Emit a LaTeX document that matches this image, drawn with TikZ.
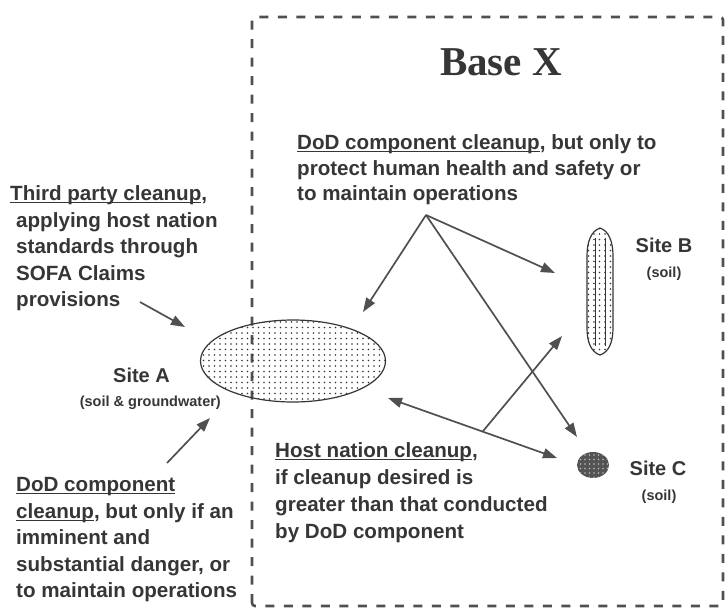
\documentclass[tikz,border=0pt]{standalone}
\usepackage{fontspec}
\setmainfont{Liberation Sans}
\newfontfamily\titlefont{Liberation Serif}
\usetikzlibrary{arrows.meta,patterns.meta,shapes.geometric,calc}
\definecolor{ink}{HTML}{363636}
\definecolor{lineink}{HTML}{505050}
\newlength\ulw
\newcommand\myul[1]{\settowidth\ulw{#1}\rlap{\rule[-2.6pt]{\ulw}{1.1pt}}#1}
\begin{document}
\begin{tikzpicture}[x=1pt,y=-1pt,
  body/.style={align=left,anchor=north west,inner sep=0pt,text=ink,font=\bfseries\fontsize{20.6}{#1}\selectfont},
  body/.default=26,
  sitelbl/.style={anchor=base,inner sep=0pt,text=ink,font=\bfseries\fontsize{20}{20}\selectfont},
  soillbl/.style={anchor=base,inner sep=0pt,text=ink,font=\bfseries\fontsize{14.5}{14.5}\selectfont},
  dotfill/.style={pattern={Dots[radius=0.85pt,distance=5.5pt]},pattern color=ink},
  site/.style={ellipse,draw=ink,line width=1.2pt,inner sep=0pt,dotfill},
  arr/.style={draw=lineink,line width=1.7pt,-{Triangle[length=14pt,width=10pt]}},
  darr/.style={draw=lineink,line width=1.7pt,{Triangle[length=14pt,width=10pt]}-{Triangle[length=14pt,width=10pt]}},
  boxline/.style={draw=lineink,line width=2.6pt,dash pattern=on 9pt off 9.5pt,rounded corners=3pt}
]
\useasboundingbox (0,0) rectangle (728,608);
\fill[white] (0,0) rectangle (728,608);

% base boundary
\draw[boxline] (252,606) -- (252,17) -- (723,17) -- (723,606) -- cycle;
\node[anchor=base,inner sep=0pt,text=ink,font=\titlefont\bfseries\fontsize{41}{41}\selectfont] (title) at (501,75) {Base X};

% sites
\node[site,minimum width=185pt,minimum height=82pt] (siteA) at (293,361) {};
\coordinate (siteB) at (600,291);
\draw[draw=ink,line width=1.2pt,dotfill]
  (600,228) .. controls (609,231) and (613,242) .. (613,256) -- (613,328)
  .. controls (613,342) and (609,352) .. (600,355)
  .. controls (591,352) and (587,342) .. (587,328) -- (587,256)
  .. controls (587,242) and (591,231) .. cycle;
\draw[draw=ink,line width=0.6pt] (595,238) -- (595,346) (605,238) -- (605,346);
\node[ellipse,fill=ink!85,inner sep=0pt,minimum width=32pt,minimum height=26pt,
  postaction={pattern={Dots[radius=0.9pt,distance=4.5pt]},pattern color=white!65!ink}] (siteC) at (593,465) {};

\node[sitelbl] (labA) at (141.5,382) {Site A};
\node[soillbl,anchor=base east] (soilA) at (221,406) {(soil \& groundwater)};
\node[sitelbl] (labB) at (664,252) {Site B};
\node[soillbl] (soilB) at (664,277) {(soil)};
\node[sitelbl] (labC) at (658,475) {Site C};
\node[soillbl] (soilC) at (659,500) {(soil)};

% texts
\node[body=25.5] (dodtop) at (297,134.5) {\myul{DoD component cleanup}, but only to\\protect human health and safety or\\to maintain operations};
\node[body=26.5] (third) at (10,185.5) {\myul{Third party cleanup},\\\hspace*{6pt}applying host nation\\\hspace*{6pt}standards through\\\hspace*{6pt}SOFA Claims\\\hspace*{6pt}provisions};
\node[body=26.5] (doddown) at (16,477.5) {\myul{DoD component}\\\myul{cleanup}, but only if an\\imminent and\\substantial danger, or\\to maintain operations};
\node[body=27] (host) at (275,442.5) {\myul{Host nation cleanup},\\if cleanup desired is\\greater than that conducted\\by DoD component};

% arrow coordinates
\coordinate (p1) at (426,215);
\coordinate (tA1) at (363,312);
\coordinate (tB1) at (555,273);
\coordinate (tC1) at (577,437);
\coordinate (hL) at (388,398);
\coordinate (hR) at (557,458);
\coordinate (hM) at ($(hL)!0.56!(hR)$);
\coordinate (tB2) at (562,336);
\coordinate (tp) at (140,302);
\coordinate (tA2) at (185,327);
\coordinate (bd) at (167,463);
\coordinate (tA3) at (210,418);

\draw[arr] (p1) -- (tA1);
\draw[arr] (p1) -- (tB1);
\draw[arr] (p1) -- (tC1);
\draw[darr] (hL) -- (hR);
\draw[arr] (hM) -- (tB2);
\draw[arr] (tp) -- (tA2);
\draw[arr] (bd) -- (tA3);
\end{tikzpicture}
\end{document}
